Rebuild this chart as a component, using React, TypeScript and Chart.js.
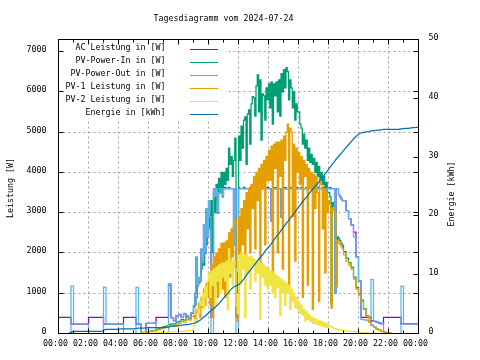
import React, { useEffect, useRef } from "react";
import { Chart, registerables } from "chart.js";

Chart.register(...registerables);

// ---------- texts ----------
const TITLE = "Tagesdiagramm vom 2024-07-24";
const Y_LEFT_TITLE = "Leistung [W]";
const Y_RIGHT_TITLE = "Energie [kWh]";

// ---------- axes / ticks ----------
const X_TICK_HOURS = [0, 2, 4, 6, 8, 10, 12, 14, 16, 18, 20, 22, 24];
const X_TICK_LABELS = ["00:00", "02:00", "04:00", "06:00", "08:00", "10:00", "12:00", "14:00", "16:00", "18:00", "20:00", "22:00", "00:00"];
const X_MINOR_STEP = 1;
const LEFT_TICKS = [0, 1000, 2000, 3000, 4000, 5000, 6000, 7000];
const RIGHT_TICKS = [0, 10, 20, 30, 40, 50];
const LEFT_MAX = 7300;
const RIGHT_MAX = 50;

// ---------- series ----------
const SERIES_LABELS = [
  "AC Leistung in [W]",
  "PV-Power-In in [W]",
  "PV-Power-Out in [W]",
  "PV-1 Leistung in [W]",
  "PV-2 Leistung in [W]",
  "Energie in [kWh]",
];
const SERIES_COLORS = ["#9400d3", "#009e73", "#56b4e9", "#e69f00", "#f0e442", "#0072b2"];

// sampling: [fromHour, toHour, minutes]; a final point at 24:00 is appended
const POWER_SEGMENTS = [[0, 9, 10], [9, 19, 5], [19, 24, 10]];
const ENERGY_SEGMENTS = [[0, 24, 10]];

const AC_POWER = [
  400,400,400,400,400,235, 235,235,235,235,235,235, 400,400,400,400,400,400,
  235,235,235,235,235,235, 235,235,400,400,400,400, 400,235,235,0,0,250,
  250,250,265,400,400,400, 400,400,1200,390,320,440, 470,410,490,440,370,510,
  690,990,1890,1190,1390,1290,2090,1790,2690,1990,3090,2390,
  3290,2890,400,400,3590,3390,3590,2990,3490,3630,3600,3390,
  3600,3630,3600,3600,3620,3600,3600,3600,2200,3600,400,400,
  3620,3600,3600,3600,3630,3600,3600,3600,3600,3620,3600,3600,
  3600,3600,3630,3600,3600,3600,3620,3600,3600,3600,3600,3630,
  3600,3600,2790,3600,3600,3620,3600,3600,3600,3600,2890,3600,
  3600,3620,3600,3600,3600,3630,3600,3600,3600,3600,3620,3600,
  3600,3600,3630,3600,3600,3600,3620,3600,3600,3600,3600,3620,
  3600,3600,3600,3630,3600,3600,3600,3620,3600,3600,3100,3600,
  3600,3620,3600,3600,3600,1000,3600,3600,3450,3400,3350,3300,
  3300,3050,2850,2700,2520,1900, 1300,400,400,400,400,320, 300,280,260,240,400,400,
  400,400,400,400,400,240, 240,240,240,240,240,240, 400,
];

const PV_IN = [
  0,0,0,0,0,0, 0,0,0,0,0,0, 0,0,0,0,0,0, 0,0,0,0,0,0, 0,0,0,0,0,0,
  0,0,0,20,30,40, 55,65,80,100,125,150, 170,190,220,240,230,280, 300,350,330,420,400,500,
  650,700,900,1200,1250,1300,1600,1750,1700,2300,2200,2700,
  3000,2600,3300,2000,3500,3000,3700,3300,3850,3500,4000,3600,
  4000,3700,4100,3800,4600,4200,4400,3900,4300,4850,1500,1000,
  4900,4300,5150,4600,5300,5380,4200,5450,5550,4700,5700,5880,
  5850,5400,6150,6420,5500,6300,4800,5950,5900,5300,6100,5800,
  6200,5600,6250,5200,6200,5900,6250,5500,6300,5400,6450,6000,
  6550,6100,6600,6500,5800,6300,6100,5600,6000,5300,5700,5500,
  5500,5200,5100,4700,4950,4600,4800,4300,4600,4250,4450,4200,
  4350,4000,4250,3900,4150,3800,4000,3700,3900,3600,3750,3500,
  3500,3400,750,3250,3150,3100,1250,2400,2350,2300,2230,2180,
  2030,1870,1760,1650,1400,1140, 980,830,620,440,295,210, 160,115,85,55,32,16,
  10,0,0,0,0,0, 0,0,0,0,0,0, 0,
];

const PV_OUT = [
  0,0,0,0,0,1175, 231,231,231,231,231,231, 0,0,0,0,0,0,
  1145,231,231,231,231,231, 231,231,0,0,0,0, 0,1145,231,0,0,250,
  250,250,270,0,0,0, 0,0,1240,400,330,450, 480,420,500,450,380,520,
  700,1000,1900,1200,1400,1300,2100,1800,2700,2000,3100,2400,
  3300,2900,0,0,3600,3400,3600,3000,3500,3600,3600,3400,
  3600,3600,3600,3600,3600,3600,3600,3600,2200,3600,0,0,
  3600,3600,3600,3600,3600,3600,3600,3600,3600,3600,3600,3600,
  3600,3600,3600,3600,3600,3600,3600,3600,3600,3600,3600,3600,
  3600,3600,2800,3600,3600,3600,3600,3600,3600,3600,2900,3600,
  3600,3600,3600,3600,3600,3600,3600,3600,3600,3600,3600,3600,
  3600,3600,3600,3600,3600,3600,3600,3600,3600,3600,3600,3600,
  3600,3600,3600,3600,3600,3600,3600,3600,3600,3600,3100,3600,
  3600,3600,3600,3600,3600,1000,3600,3600,3450,3400,3350,3300,
  3300,3050,2850,2700,2400,1900, 1300,350,340,330,320,1340, 310,290,270,250,0,0,
  0,0,0,0,0,1175, 231,231,231,231,231,231, 231,
];

const PV1_POWER = [
  0,0,0,0,0,0, 0,0,0,0,0,0, 0,0,0,0,0,0, 0,0,0,0,0,0, 0,0,0,0,0,0,
  0,0,0,20,25,35, 45,55,70,85,105,125, 140,160,180,200,180,230, 250,300,280,350,330,420,
  450,300,600,500,750,400,900,650,1100,700,1250,900,
  1500,700,1700,400,1900,1200,2000,900,2100,1500,2240,1100,
  2250,900,2300,1600,2500,1400,2600,1900,2700,2800,600,300,
  2900,1300,3100,2200,3300,1700,3500,2600,3600,2000,3700,3100,
  3900,2100,4000,3300,4100,1500,4200,3600,4300,2200,4400,3800,
  4550,3800,4650,1200,4700,4100,4750,2000,4750,3900,4800,1600,
  4900,4300,5000,5200,1100,5100,5000,2900,4700,1800,4600,4000,
  4500,3700,4400,900,4300,3900,4200,1200,4100,3600,4000,600,
  3950,3100,3900,3500,800,3800,3700,2600,3600,1500,3500,3000,
  3300,3200,630,3100,3050,3000,1150,2300,2250,2200,2150,2100,
  1950,1800,1700,1600,1350,1100, 950,800,600,420,280,200, 150,110,80,50,30,15,
  10,0,0,0,0,0, 0,0,0,0,0,0, 0,
];

const PV2_POWER = [
  0,0,0,0,0,0, 0,0,0,0,0,0, 0,0,0,0,0,0, 0,0,0,0,0,0, 0,0,0,0,0,0,
  0,0,0,0,5,5, 10,10,10,15,20,25, 30,30,40,40,50,50, 50,50,50,70,70,80,
  200,350,300,600,500,800,700,1000,600,1150,900,1300,
  1500,900,1550,1200,1600,700,1650,1300,1700,1000,1750,1400,
  1750,1300,1800,600,2100,1500,1800,1200,1850,1600,700,500,
  1950,1200,2000,1600,1950,400,1950,1500,1900,1100,1900,1700,
  1850,1300,1800,1500,1800,350,1750,1400,1700,1200,1650,1100,
  1600,1200,1550,1000,1500,900,1450,1150,1400,450,1350,1000,
  1300,700,1250,1000,1200,600,1100,800,1000,650,900,600,
  800,500,700,450,600,300,550,350,480,300,420,250,
  380,250,350,220,320,200,300,180,270,160,250,150,
  200,180,160,150,130,120,110,100,90,85,80,75,
  70,60,55,50,45,40, 30,25,20,15,10,8, 5,3,0,0,0,0,
  0,0,0,0,0,0, 0,0,0,0,0,0, 0,
];

const ENERGY_KWH = [
  0,0,0,0,0,0.2, 0.35,0.35,0.35,0.35,0.35,0.35, 0.35,0.35,0.35,0.35,0.35,0.35,
  0.55,0.7,0.7,0.7,0.7,0.7, 0.75,0.8,0.8,0.8,0.8,0.8, 0.8,0.85,0.9,0.9,0.9,0.95,
  1.0,1.0,1.0,1.0,1.0,1.0, 1.0,1.05,1.1,1.2,1.25,1.3, 1.35,1.4,1.45,1.5,1.55,1.62,
  1.7,1.85,2.1,2.4,2.75,3.1, 3.5,3.9,4.2,4.6,5.0,5.5, 6.0,6.5,7.0,7.5,7.9,8.1,
  8.3,8.7,9.2,9.8,10.4,10.9, 11.5,12.0,12.6,13.1,13.6,14.2, 14.7,15.2,15.8,16.4,16.9,17.5,
  18.1,18.7,19.2,19.8,20.3,20.9, 21.5,22.0,22.6,23.1,23.6,24.2, 24.7,25.2,25.7,26.3,26.8,27.3,
  27.9,28.5,29.0,29.6,30.1,30.6, 31.1,31.6,32.1,32.6,33.1,33.5, 33.9,34.1,34.2,34.3,34.35,34.45,
  34.5,34.55,34.6,34.65,34.7,34.7, 34.7,34.7,34.7,34.7,34.7,34.8, 34.85,34.9,34.9,34.95,35.0,35.05,
  35.05,
];

// ---------- helpers ----------
function buildSlots(segments: number[][]): number[] {
  const out: number[] = [];
  for (const [from, to, minutes] of segments) {
    for (let m = from * 60; m < to * 60; m += minutes) out.push(m / 60);
  }
  out.push(24);
  return out;
}

const POWER_SLOTS = buildSlots(POWER_SEGMENTS);
const ENERGY_SLOTS = buildSlots(ENERGY_SEGMENTS);

function toPoints(slots: number[], values: number[]) {
  return values.map((v, i) => ({ x: slots[i], y: v }));
}

const FONT = '8.3px "DejaVu Sans Mono", monospace';
const KEY_CLEAR_RIGHT = 225;
const KEY_CLEAR_BOTTOM = 118;

const gnuplotFrame = {
  id: "gnuplotFrame",
  beforeDatasetsDraw(chart: any) {
    const { ctx, chartArea: a, scales } = chart;
    const sx = scales.x, sy = scales.y;
    ctx.save();
    ctx.beginPath();
    ctx.rect(a.left, a.top, a.right - a.left, a.bottom - a.top);
    ctx.rect(a.left, a.top, KEY_CLEAR_RIGHT - a.left, KEY_CLEAR_BOTTOM - a.top);
    ctx.clip("evenodd");
    ctx.strokeStyle = "#a0a0a0";
    ctx.lineWidth = 1;
    ctx.setLineDash([2, 3]);
    ctx.beginPath();
    for (const h of X_TICK_HOURS) {
      if (h === 0 || h === 24) continue;
      const x = Math.floor(sx.getPixelForValue(h)) + 0.5;
      ctx.moveTo(x, a.bottom);
      ctx.lineTo(x, a.top);
    }
    for (const v of LEFT_TICKS) {
      if (v === 0) continue;
      const y = Math.floor(sy.getPixelForValue(v)) + 0.5;
      ctx.moveTo(a.left, y);
      ctx.lineTo(a.right, y);
    }
    ctx.stroke();
    ctx.restore();
  },
  afterDatasetsDraw(chart: any) {
    const { ctx, chartArea: a, scales } = chart;
    const sx = scales.x, sy = scales.y, sy2 = scales.y2;
    ctx.save();
    ctx.setLineDash([]);
    ctx.strokeStyle = "#000";
    ctx.lineWidth = 1;
    ctx.strokeRect(a.left, a.top, a.right - a.left, a.bottom - a.top);
    ctx.beginPath();
    for (const v of LEFT_TICKS) {
      const y = Math.floor(sy.getPixelForValue(v)) + 0.5;
      ctx.moveTo(a.left, y); ctx.lineTo(a.left + 5, y);
      ctx.moveTo(a.right, y); ctx.lineTo(a.right - 5, y);
    }
    for (const v of RIGHT_TICKS) {
      const y = Math.floor(sy2.getPixelForValue(v)) + 0.5;
      ctx.moveTo(a.right, y); ctx.lineTo(a.right - 5, y);
    }
    for (let h = 0; h <= 24; h += X_MINOR_STEP) {
      const x = Math.floor(sx.getPixelForValue(h)) + 0.5;
      const len = h % 2 === 0 ? 5 : 3;
      ctx.moveTo(x, a.bottom); ctx.lineTo(x, a.bottom - len);
      ctx.moveTo(x, a.top); ctx.lineTo(x, a.top + len);
    }
    ctx.stroke();

    ctx.fillStyle = "#000";
    ctx.font = FONT;
    ctx.textBaseline = "alphabetic";
    // title
    ctx.textAlign = "center";
    ctx.fillText(TITLE, 223.5, 21);
    // x labels
    X_TICK_HOURS.forEach((h, i) => {
      ctx.fillText(X_TICK_LABELS[i], sx.getPixelForValue(h) - 3, 346);
    });
    // left labels
    ctx.textAlign = "right";
    for (const v of LEFT_TICKS) {
      ctx.fillText(String(v), 46.5, Math.floor(sy.getPixelForValue(v)) + 1);
    }
    // right labels
    ctx.textAlign = "left";
    for (const v of RIGHT_TICKS) {
      ctx.fillText(String(v), 428.5, Math.floor(sy2.getPixelForValue(v)) + 1);
    }
    // axis titles
    ctx.textAlign = "center";
    ctx.textBaseline = "middle";
    ctx.save();
    ctx.translate(11, 188);
    ctx.rotate(-Math.PI / 2);
    ctx.fillText(Y_LEFT_TITLE, 0, 0);
    ctx.restore();
    ctx.save();
    ctx.translate(452, 194);
    ctx.rotate(-Math.PI / 2);
    ctx.fillText(Y_RIGHT_TITLE, 0, 0);
    ctx.restore();

    // key
    ctx.textBaseline = "alphabetic";
    ctx.textAlign = "right";
    chart.data.datasets.forEach((ds: any, i: number) => {
      const row = 49 + 13 * i;
      ctx.fillStyle = "#000";
      ctx.fillText(ds.label, 165.5, row + 1);
      ctx.strokeStyle = ds.borderColor;
      ctx.lineWidth = 1;
      ctx.beginPath();
      ctx.moveTo(190, row + 0.5);
      ctx.lineTo(218, row + 0.5);
      ctx.stroke();
    });
    ctx.restore();
  },
};

export default function App() {
  const ref = useRef<HTMLCanvasElement | null>(null);

  useEffect(() => {
    if (!ref.current) return;
    const powerSeries = [AC_POWER, PV_IN, PV_OUT, PV1_POWER, PV2_POWER];
    const datasets: any[] = powerSeries.map((vals, i) => ({
      label: SERIES_LABELS[i],
      data: toPoints(POWER_SLOTS, vals),
      borderColor: SERIES_COLORS[i],
      backgroundColor: SERIES_COLORS[i],
      borderWidth: 1.25,
      pointRadius: 0,
      stepped: true,
      fill: false,
      yAxisID: "y",
      order: 10 - i,
    }));
    datasets.push({
      label: SERIES_LABELS[5],
      data: toPoints(ENERGY_SLOTS, ENERGY_KWH),
      borderColor: SERIES_COLORS[5],
      backgroundColor: SERIES_COLORS[5],
      borderWidth: 1.25,
      pointRadius: 0,
      stepped: false,
      fill: false,
      yAxisID: "y2",
      order: 0,
    });

    const chart = new Chart(ref.current, {
      type: "line",
      data: { datasets },
      options: {
        animation: false,
        responsive: false,
        devicePixelRatio: 1,
        events: [],
        layout: { padding: { left: 58.5, right: 61.5, top: 39.5, bottom: 26.5 } },
        scales: {
          x: { type: "linear", min: 0, max: 24, display: false },
          y: { type: "linear", min: 0, max: LEFT_MAX, display: false },
          y2: { type: "linear", position: "right", min: 0, max: RIGHT_MAX, display: false },
        },
        plugins: { legend: { display: false }, tooltip: { enabled: false }, title: { display: false } },
        elements: { line: { tension: 0 } },
      },
      plugins: [gnuplotFrame],
    } as any);
    return () => chart.destroy();
  }, []);

  return (
    <div style={{ position: "fixed", left: 0, top: 0, width: 480, height: 360, background: "#fff" }}>
      <canvas ref={ref} width={480} height={360} style={{ display: "block" }} />
    </div>
  );
}
